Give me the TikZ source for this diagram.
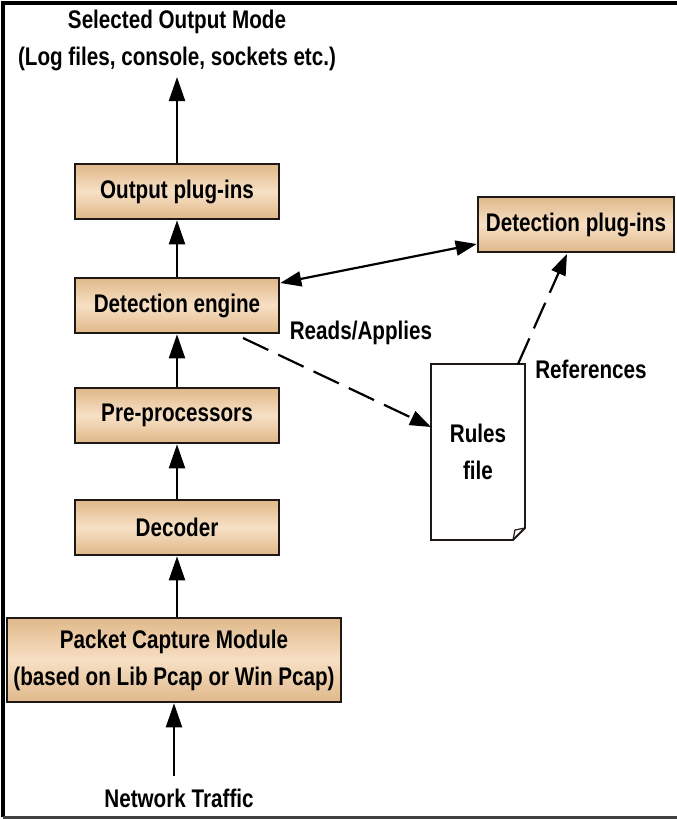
\documentclass[tikz,border=0pt]{standalone}
\usepackage{fontspec}
\setmainfont{Liberation Sans}[BoldFont={* Bold},BoldFeatures={FakeStretch=0.81}]
\usetikzlibrary{arrows.meta}
\definecolor{boxtop}{RGB}{224,184,138}
\definecolor{boxmid}{RGB}{247,224,196}
\definecolor{edge}{RGB}{30,25,20}
\tikzset{
  x=1pt, y=-1pt,
  lbl/.style={font=\fontsize{25.5}{37}\selectfont\bfseries, text=black, align=center, inner sep=0pt},
  stage/.style={lbl, draw=edge, line width=2.6pt, top color=boxtop, bottom color=boxtop,
    middle color=boxmid, minimum width=204pt, minimum height=55pt},
  tip/.tip={Triangle[length=24pt,width=16pt]},
  flow/.style={line width=2.2pt, -tip},
  dflow/.style={flow, dash pattern=on 28pt off 11pt},
}
\begin{document}
\begin{tikzpicture}
\useasboundingbox (0,0) rectangle (677,819);
% frame on the left, top and bottom
\draw[line width=4pt] (677,3) -- (3,3) -- (3,817);
\draw[line width=3pt, black!75] (3,817) -- (677,817);

% processing stages
\node[stage] (out) at (177,191.5) {Output plug-ins};
\node[stage] (eng) at (177,305.5) {Detection engine};
\node[stage] (pre) at (177,415.5) {Pre-processors};
\node[stage] (dec) at (177,527.5) {Decoder};
\node[stage, minimum width=334pt, minimum height=84pt] (pcm) at (174,660) {Packet Capture Module\\(based on Lib Pcap or Win Pcap)};
\node[stage, minimum width=196pt] (dpi) at (576,224.5) {Detection plug-ins};

% rules file with folded corner
\draw[line width=1.8pt, edge, fill=white] (431,364) -- (525,364) -- (525,528) -- (513,540) -- (431,540) -- cycle;
\draw[line width=1.2pt, edge] (525,528) -- (515,530) -- (513,540);
\node[lbl] (rules) at (478,452) {Rules\\file};
\coordinate (rfl) at (431,427);
\coordinate (rftr) at (518,364);

% free texts
\node[lbl] (mode) at (177,40) {Selected Output Mode\\(Log files, console, sockets etc.)};
\node[lbl] (net) at (179,798) {Network Traffic};
\node[lbl] (reads) at (361,333) {Reads/Applies};
\node[lbl] (refs) at (591,369) {References};

% main flow
\draw[flow] (pcm.north |- 0,776) coordinate (netin) -- (pcm.south -| netin);
\draw[flow] (pcm.north -| out.center) -- (dec.south);
\draw[flow] (dec.north) -- (pre.south);
\draw[flow] (pre.north) -- (eng.south);
\draw[flow] (eng.north) -- (out.south);
\draw[flow] (out.north) -- (177,77) coordinate (modein);

% side links
\draw[flow, {Triangle[length=21pt,width=15pt]}-{Triangle[length=21pt,width=15pt]}] (eng.east |- 0,283) -- (dpi.west |- 0,244);
\draw[dflow, -{Triangle[length=21pt,width=15pt]}] (243,338) -- (rfl);
\draw[dflow, -{Triangle[length=21pt,width=15pt]}] (rftr) -- (567,254);
\end{tikzpicture}
\end{document}
